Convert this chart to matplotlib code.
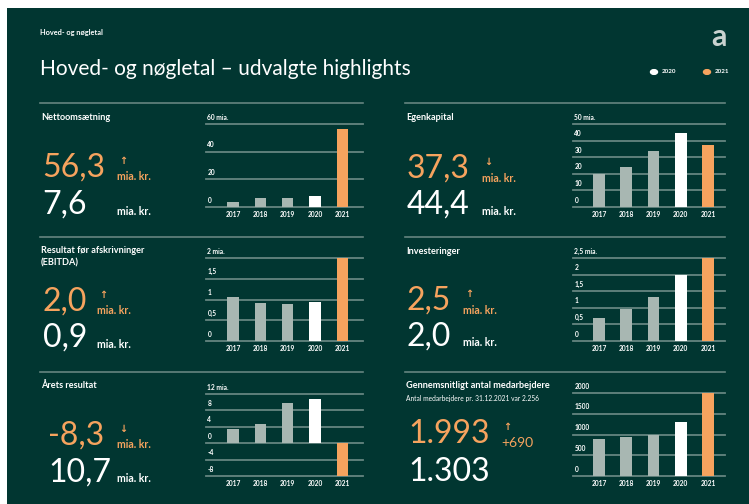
import matplotlib
matplotlib.use("Agg")
import matplotlib.pyplot as plt
from matplotlib.patches import Rectangle

# data
years = ["2017", "2018", "2019", "2020", "2021"]
nettoomsaetning = [3.5, 6.5, 6.5, 7.6, 56.3]
egenkapital = [20.0, 24.0, 33.7, 44.4, 37.3]
ebitda = [1.07, 0.92, 0.90, 0.93, 2.0]
investeringer = [0.70, 0.97, 1.33, 2.0, 2.5]
aarets_resultat = [3.4, 4.6, 9.8, 10.7, -8.3]
medarbejdere = [880, 950, 980, 1303, 1993]

titles = ["Nettoomsætning", "Egenkapital", "Resultat før afskrivninger\n(EBITDA)",
          "Investeringer", "Årets resultat", "Gennemsnitligt antal medarbejdere"]
subtitle_medarb = "Antal medarbejdere pr. 31.12.2021 var 2.256"
yticks = [[0, 20, 40, 60], [0, 10, 20, 30, 40, 50], [0, 0.5, 1, 1.5, 2],
          [0, 0.5, 1, 1.5, 2, 2.5], [-8, -4, 0, 4, 8, 12], [0, 500, 1000, 1500, 2000]]
ytick_labels = [["0", "20", "40", "60 mia."], ["0", "10", "20", "30", "40", "50 mia."],
                ["0", "0,5", "1", "1,5", "2 mia."], ["0", "0,5", "1", "1,5", "2", "2,5 mia."],
                ["-8", "-4", "0", "4", "8", "12 mia."], ["0", "500", "1000", "1500", "2000"]]

BG = "#013631"
GRAY = "#A8B7B2"
ORANGE = "#F6A35E"
LINE = "#658580"
WHITE = "#FFFFFF"
bar_colors = [GRAY, GRAY, GRAY, WHITE, ORANGE]

W, H = 749, 504
plt.rcParams["font.family"] = ["Lato", "DejaVu Sans"]


def fx(x):
    return x / W


def fy(y):
    return 1 - y / H


def txt(x, y, s, **kw):
    kw.setdefault("va", "center")
    kw.setdefault("ha", "left")
    kw.setdefault("color", WHITE)
    fig.text(fx(x), fy(y), s, **kw)


def fmt_mia(v):
    return f"{v:.1f}".replace(".", ",")


def fmt_int(v):
    return f"{v:,}".replace(",", ".")


fig = plt.figure(figsize=(W / 100, H / 100), dpi=100, facecolor="white")
fig.patches.append(Rectangle((fx(7), 0), 1 - fx(7), fy(8), transform=fig.transFigure,
                             facecolor=BG, edgecolor="none", zorder=-10))

# header
txt(40, 33, "Hoved- og nøgletal", fontsize=5.3, fontweight="bold")
txt(40, 69, "Hoved- og nøgletal – udvalgte highlights", fontsize=15)
txt(719, 37, "a", fontsize=22, fontweight="bold", color="#C9D2CF", ha="center")
fig.add_artist(plt.Circle((fx(654), fy(72)), 3.5 / W, transform=fig.transFigure, color=WHITE))
fig.add_artist(plt.Circle((fx(707), fy(72)), 3.5 / W, transform=fig.transFigure, color=ORANGE))
txt(662, 72, "2020", fontsize=4.5, fontweight="bold")
txt(715, 72, "2021", fontsize=4.5, fontweight="bold")

# separators
for y in [103, 237, 372]:
    fig.add_artist(plt.Line2D([fx(40), fx(363)], [fy(y), fy(y)], color=LINE, lw=1.2))
    fig.add_artist(plt.Line2D([fx(405), fx(725)], [fy(y), fy(y)], color=LINE, lw=1.2))

series = [nettoomsaetning, egenkapital, ebitda, investeringer, aarets_resultat, medarbejdere]
# layout per panel
col_x = [41, 406, 41, 406, 41, 406]
title_y = [117, 117, 257, 251, 385, 386]
cur_y = [168, 169, 302, 301, 436, 434]
prev_y = [205, 205, 338, 337, 473, 472]
num_x = [42, 407, 43, 407, 48, 408]
unit_x = [117, 482, 97, 463, 117, 501]
chart_top = [124, 124, 258, 258, 394, 393]
chart_bot = [207, 207, 341, 341, 476, 476]

for i, vals in enumerate(series):
    left = i % 2 == 0
    txt(col_x[i], title_y[i], titles[i], fontsize=6.6, fontweight="bold", linespacing=1.5)
    cur, prev = vals[-1], vals[-2]
    if i == 5:
        cur_s, prev_s = fmt_int(cur), fmt_int(prev)
        txt(col_x[i], 399, subtitle_medarb, fontsize=4.8)
    else:
        cur_s, prev_s = fmt_mia(cur), fmt_mia(prev)
    txt(num_x[i], cur_y[i], cur_s, fontsize=23, color=ORANGE)
    txt(num_x[i], prev_y[i], prev_s, fontsize=23, color=WHITE)
    arrow = "↑" if cur > prev else "↓"
    txt(unit_x[i] + 2, cur_y[i] - 7, arrow, fontsize=7, color=ORANGE, fontweight="bold",
        family=["DejaVu Sans"])
    if i == 5:
        txt(unit_x[i], cur_y[i] + 9, f"+{cur - prev}", fontsize=10, color=ORANGE)
    else:
        txt(unit_x[i], cur_y[i] + 9, "mia. kr.", fontsize=7.6, color=ORANGE, fontweight="bold")
        txt(unit_x[i], prev_y[i] + 6, "mia. kr.", fontsize=7.6, color=WHITE, fontweight="bold")

    # chart
    if left:
        x0, x1, lim = 206, 363, (-0.99, 4.76)
    else:
        x0, x1, lim = 573, 725, (-0.95, 4.62)
    top, bot = chart_top[i], chart_bot[i]
    ax = fig.add_axes([fx(x0), fy(bot), (x1 - x0) / W, (bot - top) / H])
    ax.set_facecolor("none")
    for s in ax.spines.values():
        s.set_visible(False)
    ax.set_xlim(*lim)
    ax.set_ylim(yticks[i][0], yticks[i][-1])
    for t in yticks[i]:
        ax.axhline(t, color=LINE, lw=1.3, zorder=1, clip_on=False)
    ax.bar(range(len(years)), vals, width=0.42, color=bar_colors, zorder=2)
    ax.set_yticks([])
    ax.set_xticks(range(len(years)))
    ax.set_xticklabels(years, fontsize=4.8, fontweight="bold", color=WHITE)
    ax.tick_params(axis="x", length=0, pad=3)
    for t, lab in zip(yticks[i], ytick_labels[i]):
        ax.annotate(lab, xy=(0.0, t), xycoords=("axes fraction", "data"),
                    xytext=(1, 2.5), textcoords="offset points", fontsize=4.8,
                    fontweight="bold", color=WHITE, va="bottom", ha="left")

fig.savefig("out.png", dpi=100, facecolor="white")
